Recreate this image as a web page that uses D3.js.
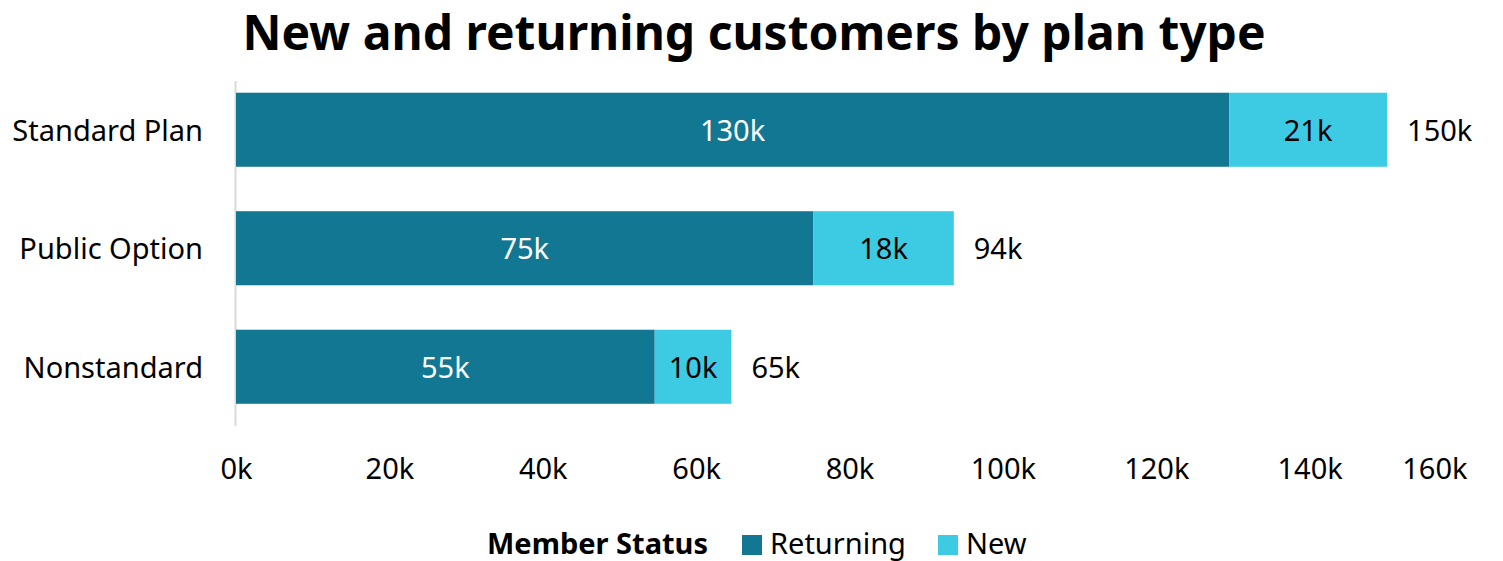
<!DOCTYPE html>
<html>
<head>
<meta charset="utf-8">
<script src="https://cdn.jsdelivr.net/npm/d3@7"></script>
<style>
  body { margin: 0; background: #fff; }
  text { font-family: "Noto Sans", "Open Sans", sans-serif; }
</style>
</head>
<body>
<svg id="chart" width="1503" height="561"></svg>
<script>
// data
var categories = ["Standard Plan", "Public Option", "Nonstandard"];
var returning = [129.5, 75.3, 54.6];
var newCust = [20.6, 18.3, 10.0];
var xTicks = [0, 20, 40, 60, 80, 100, 120, 140, 160];
var seriesNames = ["Returning", "New"];
var colors = ["#127792", "#3ccbe3"];

var svg = d3.select("#chart");

var x = d3.scaleLinear().domain([0, 160]).range([236, 1463]);
var y = d3.scaleBand().domain(categories).range([70.5, 426])
    .paddingInner(0.375).paddingOuter(0.1875);

// title
svg.append("text")
    .attr("x", 754).attr("y", 50)
    .attr("text-anchor", "middle")
    .style("font-size", "48px")
    .style("font-weight", "bold")
    .style("fill", "#000")
    .text("New and returning customers by plan type");

// left axis line
svg.append("line")
    .attr("x1", x(0) - 0.5).attr("x2", x(0) - 0.5)
    .attr("y1", 81).attr("y2", 426)
    .style("stroke", "#d9d9d9").style("stroke-width", 2);

var rows = categories.map(function(c, i){
    return {cat: c, ret: returning[i], nw: newCust[i], total: returning[i] + newCust[i]};
});

var g = svg.selectAll("g.row").data(rows).enter().append("g").attr("class", "row");

g.append("rect")
    .attr("x", x(0))
    .attr("y", function(d){ return y(d.cat); })
    .attr("width", function(d){ return x(d.ret) - x(0); })
    .attr("height", y.bandwidth())
    .style("fill", colors[0]);

g.append("rect")
    .attr("x", function(d){ return x(d.ret); })
    .attr("y", function(d){ return y(d.cat); })
    .attr("width", function(d){ return x(d.total) - x(d.ret); })
    .attr("height", y.bandwidth())
    .style("fill", colors[1]);

function fmt(v){ return Math.round(v) + "k"; }
var midY = function(d){ return y(d.cat) + y.bandwidth() / 2 + 1; };

g.append("text")
    .attr("x", function(d){ return (x(0) + x(d.ret)) / 2; })
    .attr("y", midY)
    .attr("dy", "0.35em")
    .attr("text-anchor", "middle")
    .style("font-size", "29px")
    .style("fill", "#fff")
    .text(function(d){ return fmt(d.ret); });

g.append("text")
    .attr("x", function(d){ return (x(d.ret) + x(d.total)) / 2; })
    .attr("y", midY)
    .attr("dy", "0.35em")
    .attr("text-anchor", "middle")
    .style("font-size", "29px")
    .style("fill", "#000")
    .text(function(d){ return fmt(d.nw); });

g.append("text")
    .attr("x", function(d){ return x(d.total) + 20; })
    .attr("y", midY)
    .attr("dy", "0.35em")
    .style("font-size", "29px")
    .style("fill", "#000")
    .text(function(d){ return fmt(d.total); });

// category labels
g.append("text")
    .attr("x", 203)
    .attr("y", midY)
    .attr("dy", "0.35em")
    .attr("text-anchor", "end")
    .style("font-size", "29px")
    .style("fill", "#000")
    .text(function(d){ return d.cat; });

// bottom axis
var xAxis = d3.axisBottom(x).tickValues(xTicks).tickSize(0)
    .tickFormat(function(d){ return d + "k"; });
var ax = svg.append("g").attr("transform", "translate(0,455)").call(xAxis);
ax.select(".domain").remove();
ax.selectAll("text")
    .style("font-size", "29px")
    .style("font-family", "'Noto Sans', 'Open Sans', sans-serif")
    .style("fill", "#000");
// last label kept inside the chart
ax.selectAll(".tick").filter(function(d){ return d === 160; })
    .select("text").attr("text-anchor", "end").attr("x", 4);

// legend
var legend = svg.append("g");
legend.append("text")
    .attr("x", 487).attr("y", 554)
    .style("font-size", "29px")
    .style("font-weight", "bold")
    .style("fill", "#000")
    .text("Member Status");

var legX = [742, 938];
seriesNames.forEach(function(s, i){
    legend.append("rect")
        .attr("x", legX[i]).attr("y", 535)
        .attr("width", 20).attr("height", 20)
        .style("fill", colors[i]);
    legend.append("text")
        .attr("x", legX[i] + 28).attr("y", 554)
        .style("font-size", "29px")
        .style("fill", "#000")
        .text(s);
});
</script>
</body>
</html>
